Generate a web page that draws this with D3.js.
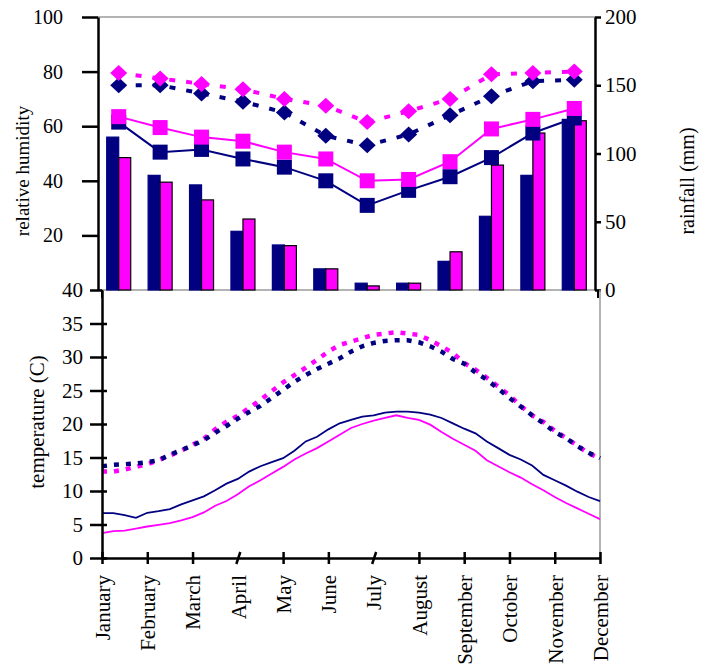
<!DOCTYPE html>
<html>
<head>
<meta charset="utf-8">
<script src="https://cdn.jsdelivr.net/npm/d3@7"></script>
<style>
  body { margin: 0; background: #fff; }
  svg { display: block; }
  text { font-family: "Liberation Serif", "Times New Roman", serif; fill: #000; }
</style>
</head>
<body>
<svg id="chart" width="709" height="665"></svg>
<script>
// ---- monthly climate data ----
const months = ["January", "February", "March", "April", "May", "June",
                "July", "August", "September", "October", "November", "December"];

// relative humidity (%)
const rhMaxA = [75, 75, 72, 69, 65, 56.5, 53, 57, 64, 71, 76.5, 77];
const rhMaxB = [79.5, 77.5, 75.5, 73.5, 70, 67.5, 61.5, 65.5, 70, 79, 79.5, 80];
const rhMinA = [61.5, 50.5, 51.5, 48, 45, 40, 31, 36.5, 41.5, 48.5, 57.5, 63];
const rhMinB = [63.5, 59.5, 56, 54.5, 50.5, 48, 40, 40.5, 47, 59, 62.5, 66.5];

// rainfall (mm)
const rainA = [112, 84, 77, 43, 33, 15.5, 5, 5, 21, 54, 84, 125];
const rainB = [97, 79, 66, 52, 32.5, 15.5, 3, 5, 28, 91.5, 115, 124];

// temperature (C), sampled every quarter month from January to December
const tempPos = d3.range(0, 11.001, 0.25);
const tMinA = [6.7, 6.7, 6.4, 6.0, 6.75, 7.0, 7.3, 8.0, 8.6, 9.2, 10.1, 11.1, 11.8, 12.9, 13.7, 14.3,
               14.9, 16.0, 17.4, 18.1, 19.2, 20.1, 20.6, 21.1, 21.3, 21.7, 21.85, 21.85, 21.7, 21.4,
               20.9, 20.1, 19.3, 18.6, 17.4, 16.4, 15.4, 14.7, 13.8, 12.4, 11.6, 10.8, 9.9, 9.1, 8.5];
const tMinB = [3.7, 4.0, 4.1, 4.4, 4.7, 4.95, 5.2, 5.6, 6.1, 6.8, 7.8, 8.5, 9.5, 10.7, 11.6, 12.6,
               13.6, 14.7, 15.6, 16.4, 17.4, 18.4, 19.4, 20.0, 20.5, 20.9, 21.3, 20.9, 20.6, 19.9,
               18.8, 17.8, 16.9, 16.0, 14.6, 13.7, 12.8, 12.0, 11.0, 10.1, 9.1, 8.2, 7.4, 6.6, 5.8];
const tMaxA = [13.7, 13.9, 14.0, 14.1, 14.3, 14.6, 15.4, 16.1, 16.8, 17.6, 18.7, 19.7, 20.8, 21.8, 22.7, 23.9,
               25.1, 26.3, 27.3, 28.2, 29.0, 29.8, 30.8, 31.6, 32.1, 32.4, 32.5, 32.5, 32.2, 31.6,
               30.8, 29.7, 29.0, 27.7, 26.6, 25.3, 23.9, 22.6, 21.3, 20.1, 18.8, 17.9, 16.7, 15.7, 14.9];
const tMaxB = [12.9, 12.9, 13.2, 13.6, 14.0, 14.6, 15.3, 16.0, 16.9, 17.8, 19.2, 20.35, 21.2, 22.4, 23.6, 24.9,
               26.2, 27.3, 28.4, 29.6, 30.8, 31.8, 32.3, 32.8, 33.3, 33.5, 33.7, 33.5, 33.3, 32.5,
               31.6, 30.6, 29.1, 28.1, 26.9, 25.6, 24.3, 22.7, 21.3, 20.3, 19.0, 17.9, 16.8, 15.6, 14.9];

const rhTicks = [20, 40, 60, 80, 100];
const rainTicks = [0, 50, 100, 150, 200];
const tempTicks = [0, 5, 10, 15, 20, 25, 30, 35, 40];

const NAVY = "#000080", MAG = "#FF00FF", GREY = "#9a9a9a";
const svg = d3.select("#chart");

// ================= upper panel: humidity + rainfall =================
const xCat = d3.scaleBand().domain(months).range([98, 595]).paddingInner(0.42).paddingOuter(0.21);
const xSub = d3.scaleBand().domain(["A", "B"]).range([0, xCat.bandwidth()]);
const yRH = d3.scaleLinear().domain([0, 100]).range([290, 17]);
const yRain = d3.scaleLinear().domain([0, 200]).range([290, 17]);
const cx = m => xCat(m) + xCat.bandwidth() / 2;

// frame lines
svg.append("line").attr("x1", 98).attr("x2", 595).attr("y1", 17).attr("y2", 17)
  .attr("stroke", GREY).attr("stroke-width", 1.5);
svg.append("line").attr("x1", 98).attr("x2", 600).attr("y1", 290).attr("y2", 290)
  .attr("stroke", GREY).attr("stroke-width", 1.5);
svg.selectAll(".endtick").data([102, 598]).join("line")
  .attr("x1", d => d).attr("x2", d => d).attr("y1", 290).attr("y2", 298)
  .attr("stroke", "#000").attr("stroke-width", 2);

// rainfall bars
const barData = months.map((m, i) => ({ m, A: rainA[i], B: rainB[i] }));
const gBars = svg.append("g");
[["A", NAVY], ["B", MAG]].forEach(([k, col]) => {
  gBars.selectAll(".bar" + k).data(barData).join("rect")
    .attr("x", d => xCat(d.m) + xSub(k))
    .attr("width", xSub.bandwidth())
    .attr("y", d => yRain(d[k]))
    .attr("height", d => yRain(0) - yRain(d[k]))
    .attr("fill", col)
    .attr("stroke", k === "A" ? NAVY : "#000")
    .attr("stroke-width", 1.2);
});

// humidity lines
const lineRH = d3.line().x((d, i) => cx(months[i])).y(d => yRH(d));
function rhSeries(vals, col, dashed, marker) {
  svg.append("path").datum(vals)
    .attr("d", lineRH).attr("fill", "none").attr("stroke", col)
    .attr("stroke-width", dashed ? 4 : 2)
    .attr("stroke-dasharray", dashed ? "6,11" : null);
  const g = svg.append("g");
  if (marker === "square") {
    g.selectAll("rect").data(vals).join("rect")
      .attr("x", (d, i) => cx(months[i]) - 7.5).attr("y", d => yRH(d) - 7.5)
      .attr("width", 15).attr("height", 15).attr("fill", col);
  } else {
    g.selectAll("path").data(vals).join("path")
      .attr("transform", (d, i) => `translate(${cx(months[i])},${yRH(d)})`)
      .attr("d", "M0,-8L8.5,0L0,8L-8.5,0Z").attr("fill", col);
  }
}
rhSeries(rhMinA, NAVY, false, "square");
rhSeries(rhMinB, MAG, false, "square");
rhSeries(rhMaxA, NAVY, true, "diamond");
rhSeries(rhMaxB, MAG, true, "diamond");

// axes of upper panel
const axLeftTop = svg.append("g").attr("transform", "translate(98,0)")
  .call(d3.axisLeft(yRH).tickValues(rhTicks).tickSize(16).tickSizeOuter(0).tickPadding(19));
axLeftTop.selectAll("text").attr("font-size", 20);
const axRight = svg.append("g").attr("transform", "translate(595,0)")
  .call(d3.axisRight(yRain).tickValues(rainTicks).tickSize(6).tickSizeOuter(0).tickPadding(4));
axRight.selectAll("text").attr("font-size", 21);
[axLeftTop, axRight].forEach(a => {
  a.attr("font-family", null);
  a.select(".domain").attr("stroke", "#000").attr("stroke-width", 2.5);
  a.selectAll(".tick line").attr("stroke", "#000").attr("stroke-width", 2.5);
});

svg.append("text").attr("transform", "translate(22,171) rotate(-90)")
  .attr("text-anchor", "middle").attr("dy", "0.35em").attr("font-size", 19)
  .text("relative humidity");
svg.append("text").attr("transform", "translate(687,181) rotate(-90)")
  .attr("text-anchor", "middle").attr("dy", "0.35em").attr("font-size", 20)
  .text("rainfall (mm)");

// ================= lower panel: temperature =================
const xT = d3.scaleLinear().domain([0, 11]).range([102, 600]);
const yT = d3.scaleLinear().domain([0, 40]).range([558, 290]);

svg.append("line").attr("x1", 600).attr("x2", 600).attr("y1", 290).attr("y2", 558)
  .attr("stroke", GREY).attr("stroke-width", 1.5);

const lineT = d3.line().x((d, i) => xT(tempPos[i])).y(d => yT(d));
function tSeries(vals, col, dashed) {
  svg.append("path").datum(vals)
    .attr("d", lineT).attr("fill", "none").attr("stroke", col)
    .attr("stroke-width", dashed ? 4.5 : 1.8)
    .attr("stroke-dasharray", dashed ? "5,7" : null);
}
tSeries(tMaxB, MAG, true);
tSeries(tMaxA, NAVY, true);
tSeries(tMinA, NAVY, false);
tSeries(tMinB, MAG, false);

const axLeftBot = svg.append("g").attr("transform", "translate(102,0)")
  .call(d3.axisLeft(yT).tickValues(tempTicks).tickSize(12).tickSizeOuter(0).tickPadding(7));
axLeftBot.selectAll("text").attr("font-size", 21);
axLeftBot.selectAll(".tick line").filter(d => d !== 40).attr("x1", 5);

const axBottom = svg.append("g").attr("transform", "translate(0,558)")
  .call(d3.axisBottom(xT).tickValues(d3.range(12)).tickFormat(i => months[i])
    .tickSize(6).tickSizeOuter(0));
axBottom.selectAll(".tick line").attr("y1", -6);
axBottom.selectAll(".tick line").filter(d => d === 3 || d === 6)
  .attr("x1", 2).attr("x2", -2);
axBottom.selectAll("text")
  .attr("transform", "rotate(-90)")
  .attr("x", -17).attr("y", 0).attr("dy", "0.35em")
  .attr("text-anchor", "end").attr("font-size", 21);

[axLeftBot, axBottom].forEach(a => {
  a.attr("font-family", null);
  a.select(".domain").attr("stroke", "#000").attr("stroke-width", 2.5);
  a.selectAll(".tick line").attr("stroke", "#000").attr("stroke-width", 2.5);
});

svg.append("text").attr("transform", "translate(37,422) rotate(-90)")
  .attr("text-anchor", "middle").attr("dy", "0.35em").attr("font-size", 21)
  .text("temperature (C)");
</script>
</body>
</html>
